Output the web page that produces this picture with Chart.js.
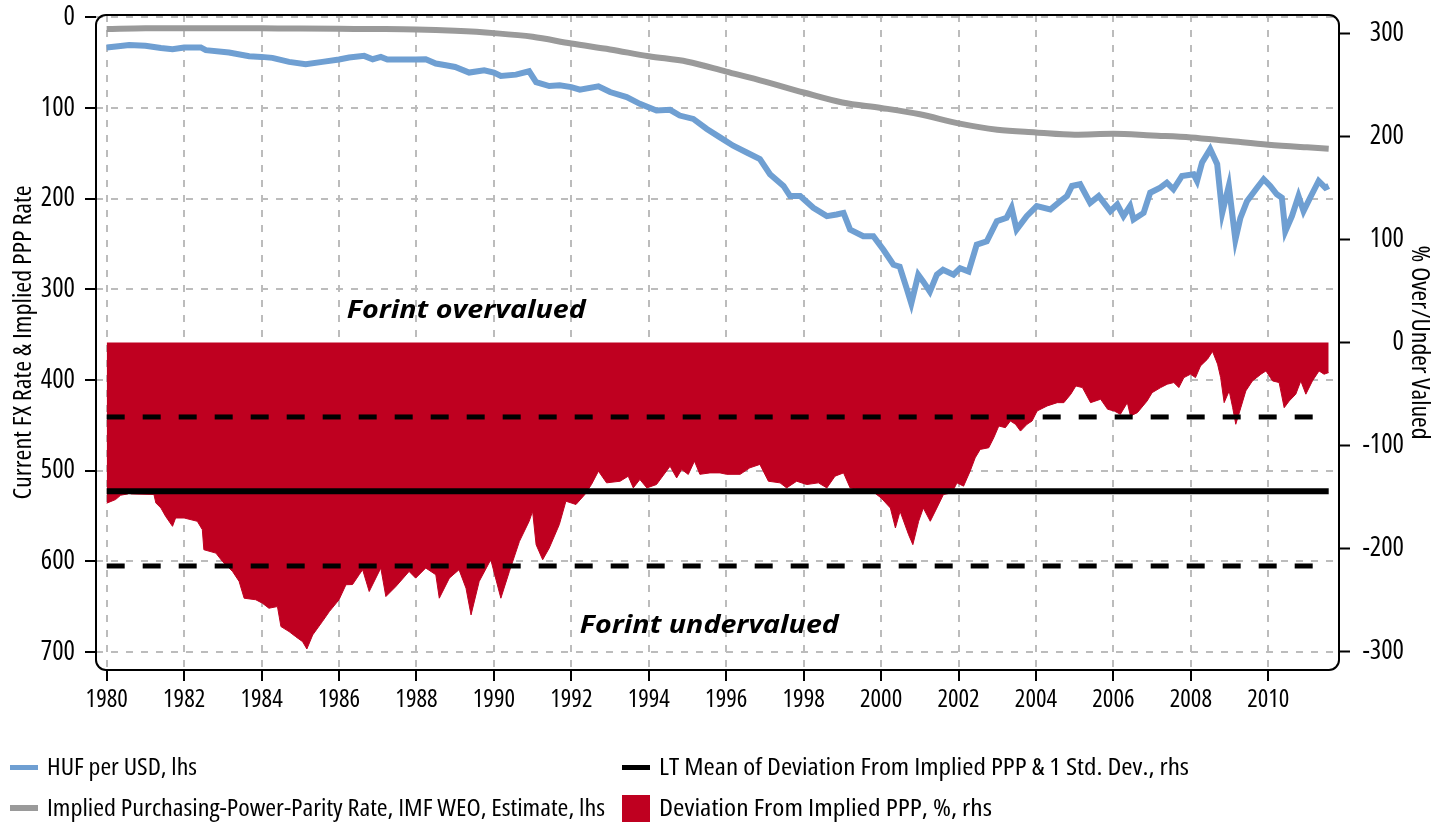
<!DOCTYPE html>
<html><head><meta charset="utf-8">
<script src="https://cdn.jsdelivr.net/npm/chart.js@4/dist/chart.umd.min.js"></script>
<style>
html,body{margin:0;padding:0;background:#fff;}
#wrap{position:relative;width:1441px;height:827px;overflow:hidden;}
canvas{position:absolute;left:0;top:0;}
.lt{position:absolute;white-space:nowrap;color:#000;line-height:1;transform-origin:0 50%;}
.sw{position:absolute;}
</style></head>
<body><div id="wrap"><canvas id="c" width="1441" height="827"></canvas><div id="legend"></div></div>
<script>
// ---------------- DATA ----------------
const xTickYears = [1980,1982,1984,1986,1988,1990,1992,1994,1996,1998,2000,2002,2004,2006,2008,2010];
const lhsTicks = [0,100,200,300,400,500,600,700];
const rhsTicks = [-300,-200,-100,0,100,200,300];

// HUF per USD (lhs)
const fxYears = [1980.0,1980.3,1980.58,1981.0,1981.4,1981.7,1982.0,1982.43,1982.56,1983.16,1983.68,1984.0,1984.28,1984.71,1985.14,1985.57,1986.0,1986.26,1986.65,1986.87,1987.08,1987.25,1987.98,1988.24,1988.5,1988.76,1989.0,1989.36,1989.75,1990.0,1990.18,1990.57,1990.91,1991.09,1991.43,1991.7,1992.0,1992.22,1992.7,1993.0,1993.43,1993.77,1994.2,1994.55,1994.8,1995.15,1995.5,1995.84,1996.18,1996.53,1996.87,1997.13,1997.48,1997.65,1997.91,1998.25,1998.6,1998.85,1999.03,1999.2,1999.54,1999.8,2000.06,2000.32,2000.48,2000.66,2000.78,2000.96,2001.09,2001.26,2001.44,2001.6,2001.87,2002.04,2002.26,2002.47,2002.73,2002.99,2003.24,2003.37,2003.5,2003.76,2004.02,2004.37,2004.63,2004.8,2004.93,2005.14,2005.4,2005.62,2005.92,2006.1,2006.26,2006.43,2006.52,2006.78,2006.95,2007.21,2007.38,2007.55,2007.77,2008.07,2008.16,2008.29,2008.5,2008.68,2008.81,2008.98,2009.15,2009.28,2009.45,2009.71,2009.88,2010.05,2010.22,2010.35,2010.44,2010.61,2010.78,2010.91,2011.08,2011.3,2011.47,2011.56];
const fxValues = [33.3,32,30.7,31.5,34,35.2,33.3,33.3,36.3,38.8,43,43.7,44.8,49.2,51.8,49.2,46.6,44.4,42.6,46.3,43.7,46.6,46.6,46.3,51,52.9,54.8,61,58.5,61,64.8,63.3,59.6,71.5,75.9,75.1,77,79.9,76.2,82.5,88.1,95.5,102.9,102.1,108.4,112.1,123.2,132.5,141.7,149.2,156.5,173.1,186.1,197.2,197.2,210.2,219.4,217.5,215.8,234.2,241.6,241.6,256.4,273,275,299,315.6,284,291.6,302.7,284,278.6,284,276.8,280.5,250.8,247.2,225,221.3,210.2,234.2,219.4,208.3,212,202.8,197.2,186.1,184.2,204.7,197.2,213.9,206.5,219.4,208.3,223.1,215.8,193.5,188,182.5,189.8,175,173.1,180.6,160.2,145.4,162,215.8,186.1,245.3,221.3,202.8,188,178.7,186.1,195.3,199.1,236.1,219.4,197.2,213.9,199.1,180.6,188,186.1];

// Implied PPP rate, IMF WEO (lhs)
const pppYears = [1980,1981,1982,1983,1984,1985,1986,1987,1988,1989,1990,1991,1992,1993,1994,1995,1996,1997,1998,1999,2000,2001,2002,2003,2004,2005,2006,2007,2008,2009,2010,2011,2011.56];
const pppValues = [13,12,12,12,12,12.5,12.8,13,13.5,15,17.5,21.5,29,35.5,43,49,60,71,83,94,100,107,117,124,127,129.5,128.5,130.5,132.5,136.5,140.5,143.5,145];

// Deviation from implied PPP, % (rhs)
const devYears = [1980.0,1980.23,1980.36,1980.55,1980.58,1980.62,1981.22,1981.27,1981.4,1981.52,1981.7,1981.78,1982.0,1982.34,1982.47,1982.51,1982.82,1982.99,1983.25,1983.42,1983.55,1983.85,1984.02,1984.19,1984.41,1984.5,1984.71,1984.88,1985.06,1985.17,1985.32,1985.57,1985.75,1986.0,1986.18,1986.35,1986.52,1986.61,1986.78,1987.08,1987.21,1987.47,1987.81,1987.98,1988.24,1988.5,1988.59,1988.85,1989.1,1989.28,1989.41,1989.62,1989.92,1990.18,1990.4,1990.66,1990.91,1991.0,1991.09,1991.26,1991.43,1991.69,1991.86,1992.12,1992.35,1992.52,1992.7,1992.91,1993.26,1993.47,1993.6,1993.77,1993.95,1994.2,1994.55,1994.72,1994.85,1995.02,1995.18,1995.32,1995.58,1995.84,1996.01,1996.36,1996.61,1996.87,1997.09,1997.39,1997.56,1997.82,1998.08,1998.38,1998.6,1998.81,1999.03,1999.2,1999.46,1999.72,2000.0,2000.24,2000.37,2000.49,2000.71,2000.82,2000.97,2001.09,2001.27,2001.44,2001.61,2001.83,2001.96,2002.13,2002.3,2002.43,2002.56,2002.78,2002.91,2003.04,2003.21,2003.34,2003.47,2003.6,2003.77,2003.9,2004.03,2004.29,2004.55,2004.72,2004.9,2005.03,2005.2,2005.41,2005.67,2005.85,2006.02,2006.18,2006.36,2006.44,2006.62,2006.87,2007.0,2007.22,2007.39,2007.56,2007.69,2007.82,2007.99,2008.12,2008.25,2008.43,2008.56,2008.69,2008.77,2008.86,2008.99,2009.08,2009.16,2009.29,2009.42,2009.59,2009.81,2009.94,2010.11,2010.28,2010.41,2010.54,2010.71,2010.84,2010.97,2011.14,2011.31,2011.44,2011.56];
const devValues = [-156,-152.5,-148.3,-147,-141,-147,-147.6,-155.8,-160.7,-168.7,-178.5,-170.4,-170.4,-173.6,-181.7,-201.2,-204.5,-212.6,-222.3,-232,-248.3,-249.8,-253.1,-258,-256.4,-275.8,-280.7,-285.6,-290.5,-297.6,-284,-271,-261.3,-249.8,-235.2,-235,-225.5,-220.6,-241.8,-219,-246.7,-236.9,-222.3,-228.8,-219,-225.5,-248.3,-228.8,-220.6,-238.6,-264.5,-232,-210.9,-248.3,-222.3,-193.1,-173.6,-163.9,-196.3,-210.9,-199.6,-176.8,-154.1,-157.3,-147.6,-137.9,-124.9,-136.3,-134.7,-129.8,-141.2,-133,-141.2,-137.9,-120.1,-131.5,-123.3,-128.1,-115.2,-128,-126.6,-126.6,-128,-128,-121.7,-118.4,-134.7,-136.3,-141.2,-134.7,-137.9,-136.3,-141.2,-129.8,-126.6,-141.2,-142.8,-142.8,-150.9,-160.7,-180.1,-163.9,-186.6,-196.3,-173.6,-160.7,-173.6,-160.7,-147.6,-146,-136.3,-139.5,-124.9,-112,-103.8,-102.2,-92.5,-81.1,-82.7,-76.2,-79.4,-86,-79.4,-76.2,-66.5,-61.6,-58.4,-58.4,-50.2,-42.2,-43.8,-58.4,-55.1,-64.8,-66.5,-69.7,-58.4,-71.3,-68.1,-56.8,-48.7,-43.8,-40.5,-38.9,-43.8,-34.1,-30.8,-34.1,-22.7,-16.2,-8.7,-21,-34.1,-58.4,-47,-63.3,-79.4,-63.3,-47,-37.3,-30.8,-27.6,-37.3,-38.9,-63.3,-56.8,-50.2,-37.3,-50.2,-37.3,-27.6,-30.8,-29.2];

// Long-term mean of deviation and +/- 1 std. dev. (rhs)
const bandYears = [1980.0, 2011.56];
const meanDev = -144.5;
const upperBand = -72.3;
const lowerBand = -217;

const labels = {
  fx: 'HUF per USD, lhs',
  ppp: 'Implied Purchasing-Power-Parity Rate, IMF WEO, Estimate, lhs',
  mean: 'LT Mean of Deviation From Implied PPP & 1 Std. Dev., rhs',
  dev: 'Deviation From Implied PPP, %, rhs',
  yLeft: 'Current FX Rate & Implied PPP Rate',
  yRight: '% Over/Under Valued',
  over: 'Forint overvalued',
  under: 'Forint undervalued'
};

// ---------------- STYLE ----------------
const BLUE = '#6f9fd2', GREY = '#9a9a9a', RED = '#bf0020', GRID = '#bcbcbc';
const mctx = document.createElement('canvas').getContext('2d');
function mw(font, txt){ mctx.font = font; return mctx.measureText(txt).width; }
// pick the most condensed-looking installed sans font
const cands = [
  {pre:'', fam:"'Liberation Sans Narrow'"},
  {pre:'condensed', fam:"'Open Sans'"},
  {pre:'condensed', fam:"'Noto Sans'"},
  {pre:'', fam:"'Noto Sans Condensed'"},
  {pre:'', fam:"'Open Sans Condensed'"},
  {pre:'', fam:"'Roboto Condensed'"},
  {pre:'condensed', fam:"'Roboto'"},
  {pre:'', fam:"'DejaVu Sans Condensed'"},
  {pre:'condensed', fam:"'DejaVu Sans'"},
  {pre:'', fam:"'Liberation Sans'"}
];
const probe = 'Hamburgefonstiv 0123456789';
let best = null;
cands.forEach(c => {
  const p = c.pre ? c.pre + ' ' : '';
  const wa = mw(p + '100px ' + c.fam + ', monospace', probe);
  const wb = mw(p + '100px monospace', probe);
  if (Math.abs(wa - wb) < 0.5) return;
  mctx.font = p + '100px ' + c.fam;
  const cap = mctx.measureText('H').actualBoundingBoxAscent / 100;
  const ratio = mctx.measureText('0').width / 100 / cap;
  const score = Math.abs(ratio - 0.58);
  if (!best || score < best.score) best = {pre: c.pre, fam: c.fam, cap: cap, score: score};
});
if (!best) best = {pre:'', fam:'sans-serif', cap:0.72};
const FAM = best.fam + ', sans-serif';
const STRETCH = best.pre || 'normal';
const PRE = best.pre ? best.pre + ' ' : '';
function sizeFor(text, targetW, targetCap){
  const sw = 100 * targetW / mw(PRE + '100px ' + FAM, text);
  const sh = targetCap / best.cap;
  return Math.sqrt(sw * sh);
}
const yTickSize = sizeFor('100', 34, 19.5);
const xTickSize = sizeFor('1980', 42, 18);
const leftTitleSize = sizeFor(labels.yLeft, 321, 18.5);
const rightTitleSize = sizeFor(labels.yRight, 195, 18.5);
const fontObj = s => ({family: FAM, size: s, weight: STRETCH, lineHeight: 1.2});

const FAM_B = "'Open Sans','Liberation Sans',sans-serif";
mctx.font = 'italic bold 100px ' + FAM_B;
const capB = mctx.measureText('F').actualBoundingBoxAscent / 100;

const pts = (xs, ys) => xs.map((x, i) => ({x: x, y: ys[i]}));
const flat = (v) => bandYears.map(x => ({x: x, y: v}));

const framePlugin = {
  id: 'frame',
  afterDraw(chart) {
    const {ctx, chartArea: a} = chart;
    ctx.save();
    ctx.strokeStyle = '#000'; ctx.lineWidth = 2;
    ctx.beginPath();
    ctx.roundRect(a.left, a.top, a.right - a.left, a.bottom - a.top, 10);
    ctx.stroke();
    ctx.restore();
  }
};
const notes = [
  {text: labels.over, year: 1986.2, lhs: 332, width: 239, cap: 18.5},
  {text: labels.under, year: 1992.22, lhs: 679.7, width: 259, cap: 18.5}
];
const notePlugin = {
  id: 'notes',
  afterDatasetsDraw(chart) {
    const {ctx, scales} = chart;
    notes.forEach(n => {
      const size = n.cap / capB;
      ctx.save();
      ctx.font = 'italic bold ' + size + 'px ' + FAM_B;
      const sx = n.width / ctx.measureText(n.text).width;
      ctx.translate(scales.x.getPixelForValue(n.year), scales.y.getPixelForValue(n.lhs));
      ctx.scale(sx, 1);
      ctx.fillStyle = '#000'; ctx.textAlign = 'left'; ctx.textBaseline = 'alphabetic';
      ctx.fillText(n.text, 0, 0);
      ctx.restore();
    });
  }
};

const lhL = leftTitleSize * 1.2, lhR = rightTitleSize * 1.2;
new Chart(document.getElementById('c'), {
  type: 'line',
  data: { datasets: [
    {label: labels.fx, data: pts(fxYears, fxValues), yAxisID: 'y', borderColor: BLUE, borderWidth: 6, pointRadius: 0, tension: 0, fill: false},
    {label: labels.ppp, data: pts(pppYears, pppValues), yAxisID: 'y', borderColor: GREY, borderWidth: 6, pointRadius: 0, tension: 0.4, cubicInterpolationMode: 'monotone', fill: false},
    {label: labels.mean, data: flat(meanDev), yAxisID: 'y2', borderColor: '#000', borderWidth: 6, pointRadius: 0, fill: false},
    {label: '+1 Std. Dev.', data: flat(upperBand), yAxisID: 'y2', borderColor: '#000', borderWidth: 5, borderDash: [18, 18], pointRadius: 0, fill: false},
    {label: '-1 Std. Dev.', data: flat(lowerBand), yAxisID: 'y2', borderColor: '#000', borderWidth: 5, borderDash: [18, 18], pointRadius: 0, fill: false},
    {label: labels.dev, data: pts(devYears, devValues), yAxisID: 'y2', borderColor: RED, backgroundColor: RED, borderWidth: 1, pointRadius: 0, tension: 0, fill: 'origin'}
  ]},
  options: {
    responsive: false, animation: false,
    layout: {padding: {top: 15, bottom: 107, left: 0, right: 37}},
    plugins: {legend: {display: false}, tooltip: {enabled: false}},
    scales: {
      x: {
        type: 'linear', min: 1979.724, max: 2011.826,
        afterBuildTicks: s => { s.ticks = xTickYears.map(v => ({value: v})); },
        afterFit: s => { s.height = 50; s.paddingLeft = 0; s.paddingRight = 0; },
        ticks: {callback: v => String(v), font: fontObj(xTickSize), color: '#000', padding: 4, maxRotation: 0, autoSkip: false},
        grid: {color: GRID, lineWidth: 2, tickColor: '#000', tickWidth: 2, tickLength: 11},
        border: {display: false, dash: [7, 8]}
      },
      y: {
        type: 'linear', position: 'left', reverse: true, min: -2.5, max: 720,
        afterBuildTicks: s => { s.ticks = lhsTicks.map(v => ({value: v})); },
        afterFit: s => { s.width = 96; s.paddingTop = 0; s.paddingBottom = 0; },
        ticks: {callback: v => String(v), font: fontObj(yTickSize), color: '#000', padding: 10},
        grid: {color: GRID, lineWidth: 2, tickColor: '#000', tickWidth: 2, tickLength: 11},
        border: {display: false, dash: [7, 8]},
        title: {display: true, text: labels.yLeft, color: '#000', font: fontObj(leftTitleSize), padding: {top: 23.5 - lhL / 2, bottom: 0}}
      },
      y2: {
        type: 'linear', position: 'right', min: -318, max: 318,
        afterBuildTicks: s => { s.ticks = rhsTicks.map(v => ({value: v})); },
        afterFit: s => { s.width = 65; s.paddingTop = 0; s.paddingBottom = 0; },
        ticks: {callback: v => String(v), font: fontObj(yTickSize), color: '#000', padding: 12, crossAlign: 'far'},
        grid: {drawOnChartArea: false, tickColor: '#000', tickWidth: 2, tickLength: 11},
        border: {display: false},
        title: {display: true, text: labels.yRight, color: '#000', font: fontObj(rightTitleSize), padding: {top: -15 - lhR / 2, bottom: 0}}
      }
    }
  },
  plugins: [framePlugin, notePlugin]
});

// ---------------- LEGEND (HTML) ----------------
const legendItems = [
  {text: labels.fx, color: BLUE, thick: 5, x: 10, cy: 767, w: 150},
  {text: labels.ppp, color: GREY, thick: 6, x: 10, cy: 808, w: 558},
  {text: labels.mean, color: '#000', thick: 5, x: 622, cy: 767, w: 530},
  {text: labels.dev, color: RED, thick: 27, x: 622, cy: 808, w: 333}
];
const legSize = 17.5 / best.cap;
mctx.font = PRE + legSize + 'px ' + FAM;
const fm = mctx.measureText('H');
const A = fm.fontBoundingBoxAscent, D = fm.fontBoundingBoxDescent, capPx = fm.actualBoundingBoxAscent;
const capCenterFromTop = (legSize - (A + D)) / 2 + A - capPx / 2;
const leg = document.getElementById('legend');
legendItems.forEach(it => {
  const sw = document.createElement('div');
  sw.className = 'sw';
  sw.style.cssText = 'left:' + it.x + 'px;top:' + (it.cy - it.thick / 2) + 'px;width:28px;height:' + it.thick + 'px;background:' + it.color + ';';
  leg.appendChild(sw);
  const t = document.createElement('div');
  t.className = 'lt';
  t.textContent = it.text;
  const nat = mctx.measureText(it.text).width;
  t.style.cssText = 'left:' + (it.x + 37) + 'px;top:' + (it.cy - capCenterFromTop) + 'px;font-family:' + FAM + ';font-stretch:' + STRETCH + ';font-size:' + legSize + 'px;transform:scaleX(' + (it.w / nat) + ');';
  leg.appendChild(t);
});
</script>
</body></html>
